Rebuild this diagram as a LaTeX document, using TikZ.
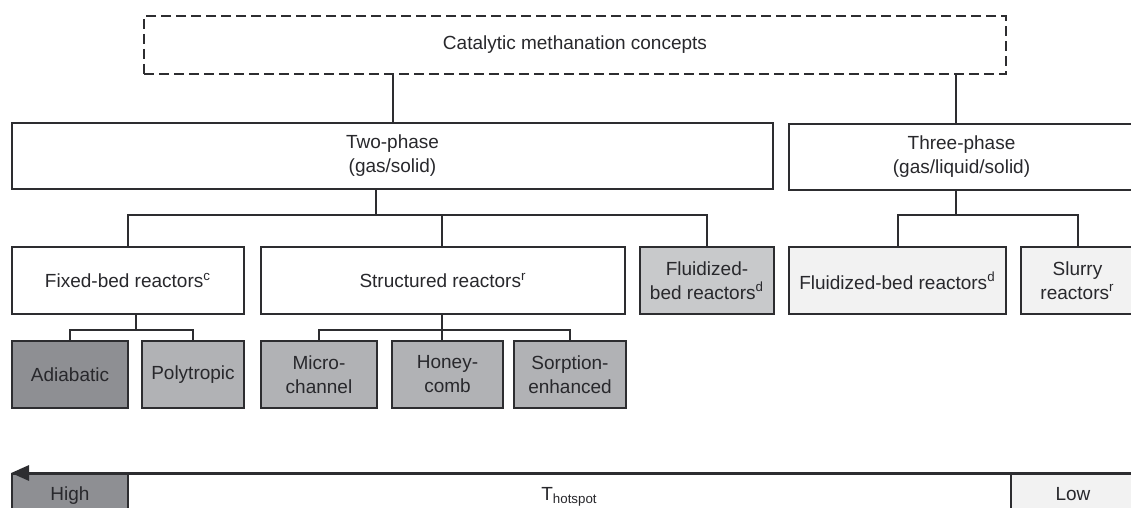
\documentclass[tikz,border=0pt]{standalone}
\usepackage{fontspec}
\setmainfont{Liberation Sans}
\usepackage{tikz}
\usetikzlibrary{calc}
\usetikzlibrary{arrows.meta}
\usetikzlibrary{positioning}
\definecolor{edge}{RGB}{45, 45, 48}
\definecolor{ink}{RGB}{40, 40, 44}
\definecolor{slate}{RGB}{142, 143, 147}
\definecolor{pewter}{RGB}{177, 178, 181}
\definecolor{silver}{RGB}{200, 201, 203}
\definecolor{mist}{RGB}{242, 242, 242}

\tikzset{
    box/.style={draw=edge, line width=1pt, fill=white, text=ink, align=center,
                inner sep=0pt, font=\fontsize{9.5}{12}\selectfont},
    scalebox/.style={box, minimum height=20pt, text height=1.6ex, text depth=0.4ex},
    link/.style={draw=edge, line width=1pt},
}

\begin{document}
\begin{tikzpicture}[x=0.5pt, y=-0.5pt]
            \useasboundingbox (0,0) rectangle (1131,508);
            % levels
            \node[box, dashed, dash pattern=on 5pt off 2.5pt, minimum width=431pt, minimum height=29pt] (top) at ( 575.0, 45.0) {Catalytic methanation concepts};
            \node[box, minimum width=380.5pt, minimum height=33pt] (two)   at ( 392.5,156.0) {Two-phase\\(gas/solid)};
            \node[box, minimum width=172.5pt, minimum height=33pt] (three) at ( 961.5,157.0) {Three-phase\\(gas/liquid/solid)};
            \node[box, minimum width=116pt,  minimum height=33.5pt] (fixed)  at ( 128.0,280.5) {Fixed-bed reactors\textsuperscript{c}};
            \node[box, minimum width=182pt,  minimum height=33.5pt] (struct) at ( 443.0,280.5) {Structured reactors\textsuperscript{r}};
            \node[box, fill=silver, minimum width=67pt, minimum height=33.5pt] (fluidtwo) at ( 707.0,280.5) {Fluidized-\\bed reactors\textsuperscript{d}};
            \node[box, fill=mist, minimum width=108.5pt, minimum height=33.5pt] (fluidthree) at ( 897.5,280.5) {Fluidized-bed reactors\textsuperscript{d}};
            \node[box, fill=mist, minimum width=56.5pt, minimum height=33.5pt] (slurry) at (1077.5,280.5) {Slurry\\reactors\textsuperscript{r}};
            \node[box, fill=slate,  minimum width=58pt,   minimum height=33.5pt] (adiab) at (  70.0,374.5) {Adiabatic};
            \node[box, fill=pewter, minimum width=51pt,   minimum height=33.5pt] (poly)  at ( 193.0,374.5) {Polytropic};
            \node[box, fill=pewter, minimum width=58pt,   minimum height=33.5pt] (micro) at ( 319.0,374.5) {Micro-\\channel};
            \node[box, fill=pewter, minimum width=55.5pt, minimum height=33.5pt] (honey) at ( 447.5,374.5) {Honey-\\comb};
            \node[box, fill=pewter, minimum width=56pt,   minimum height=33.5pt] (sorp)  at ( 570.0,374.5) {Sorption-\\enhanced};
            % junctions
            \coordinate (tj) at (376,215);
            \coordinate (hj) at (956,215);
            \coordinate (fj) at (136,330);
            \coordinate (sj) at (442,330);
            \draw[link] (top.south -| two.north) -- (two.north);
            \draw[link] (top.south -| hj) -- (three.north -| hj);
            \draw[link] (two.south -| tj) -- (tj);
            \draw[link] (fixed.north) |- (tj) -| (fluidtwo.north);
            \draw[link] (struct.north -| sj) -- (sj |- tj);
            \draw[link] (three.south -| hj) -- (hj);
            \draw[link] (fluidthree.north) |- (hj) -| (slurry.north);
            \draw[link] (fixed.south -| fj) -- (fj);
            \draw[link] (adiab.north) |- (fj) -| (poly.north);
            \draw[link] (struct.south -| sj) -- (sj);
            \draw[link] (micro.north) |- (sj) -| (sorp.north);
            \draw[link] (sj) -- (sj |- honey.north);
            % hotspot scale
            \node[scalebox, fill=slate, minimum width=58pt]    (high) at (  70.0,494.0) {High};
            \node[scalebox,             minimum width=441.5pt] (hot)  at ( 569.5,494.0) {T\textsubscript{hotspot}};
            \node[scalebox, fill=mist,  minimum width=62pt]    (low)  at (1073.0,494.0) {Low};
            \draw[draw=edge, line width=1.5pt, -{Triangle[length=9pt, width=7.5pt]}] (low.north east) -- (high.north west);
        \end{tikzpicture}
\end{document}
